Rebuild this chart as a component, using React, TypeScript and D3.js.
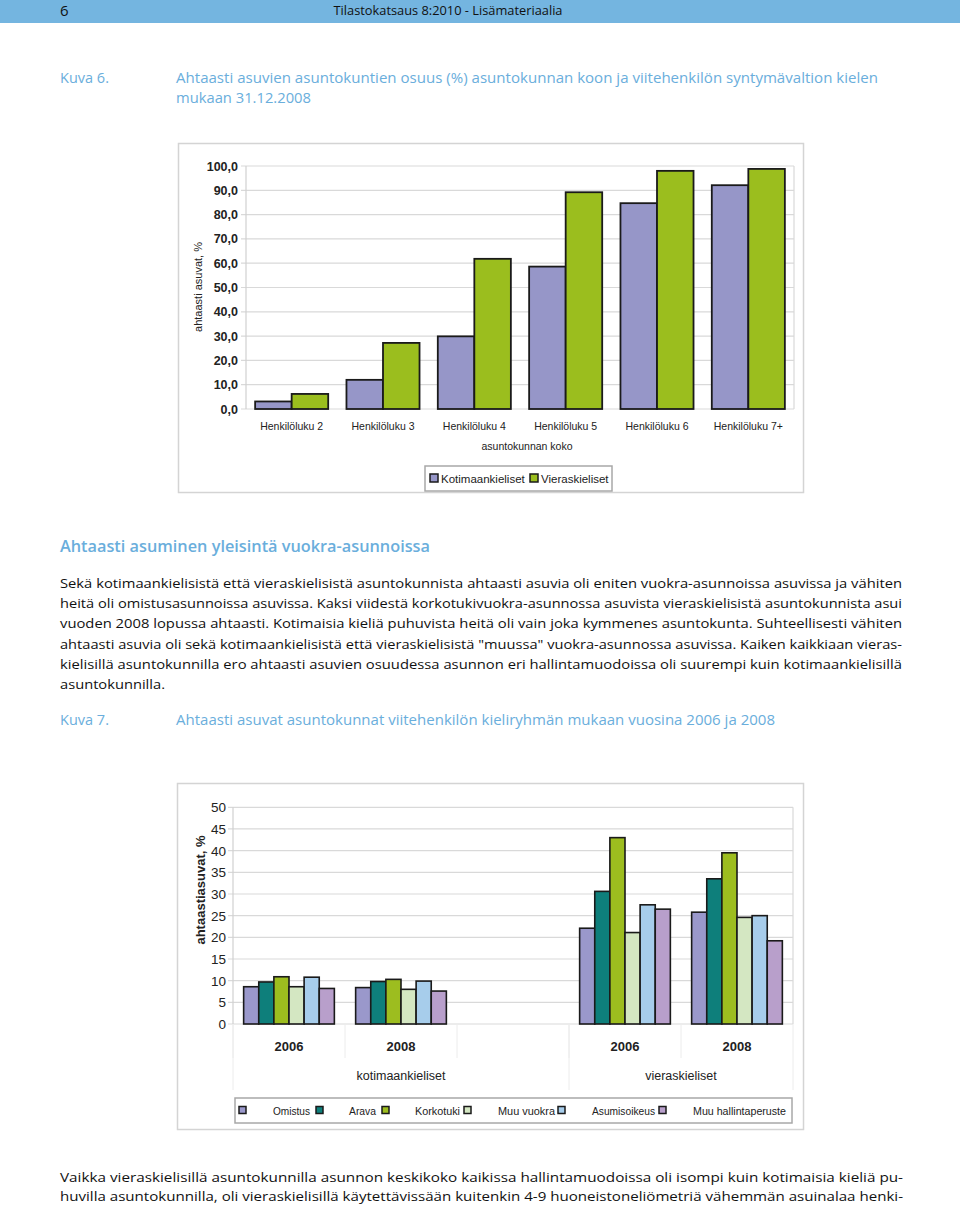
import React from "react";
import * as d3 from "d3";

// ---------- Data: chart 1 ----------
const sizeCategories = ["Henkilöluku 2", "Henkilöluku 3", "Henkilöluku 4", "Henkilöluku 5", "Henkilöluku 6", "Henkilöluku 7+"];
const languageSeries = ["Kotimaankieliset", "Vieraskieliset"];
const kotimaankielisetShare = [3.1, 12.0, 29.9, 58.6, 84.7, 92.1];
const vieraskielisetShare = [6.2, 27.2, 61.8, 89.2, 98.0, 98.8];
const chart1Ticks = [0, 10, 20, 30, 40, 50, 60, 70, 80, 90, 100];

// ---------- Data: chart 2 ----------
const tenureTypes = ["Omistus", "Arava", "Korkotuki", "Muu vuokra", "Asumisoikeus", "Muu hallintaperuste"];
const yearLabels = ["2006", "2008", "", "2006", "2008"];
const languageGroups = ["kotimaankieliset", "vieraskieliset"];
const koti2006 = [8.6, 9.7, 10.9, 8.6, 10.8, 8.2];
const koti2008 = [8.4, 9.8, 10.3, 8.0, 9.9, 7.6];
const vieras2006 = [22.1, 30.6, 43.0, 21.1, 27.5, 26.5];
const vieras2008 = [25.8, 33.5, 39.5, 24.6, 25.0, 19.2];
const chart2Ticks = [0, 5, 10, 15, 20, 25, 30, 35, 40, 45, 50];

// ---------- Text ----------
const paragraphLines = [
  "Sekä kotimaankielisistä että vieraskielisistä asuntokunnista ahtaasti asuvia oli eniten vuokra-asunnoissa asuvissa ja vähiten",
  "heitä oli omistusasunnoissa asuvissa. Kaksi viidestä korkotukivuokra-asunnossa asuvista vieraskielisistä asuntokunnista asui",
  "vuoden 2008 lopussa ahtaasti. Kotimaisia kieliä puhuvista heitä oli vain joka kymmenes asuntokunta. Suhteellisesti vähiten",
  "ahtaasti asuvia oli sekä kotimaankielisistä että vieraskielisistä \"muussa\" vuokra-asunnossa asuvissa. Kaiken kaikkiaan vieras-",
  "kielisillä asuntokunnilla ero ahtaasti asuvien osuudessa asunnon eri hallintamuodoissa oli suurempi kuin kotimaankielisillä",
  "asuntokunnilla.",
];
const bottomLines = [
  "Vaikka vieraskielisillä asuntokunnilla asunnon keskikoko kaikissa hallintamuodoissa oli isompi kuin kotimaisia kieliä pu-",
  "huvilla asuntokunnilla, oli vieraskielisillä käytettävissään kuitenkin 4-9 huoneistoneliömetriä vähemmän asuinalaa henki-",
];

const BLUE_TEXT = "#6AAEDC";
const BODY_FONT = "'Open Sans', 'Noto Sans', sans-serif";
const CHART_FONT = "'Liberation Sans', Arial, sans-serif";

const chart1Colors = ["#9696C8", "#9BBE1E"];
const chart2Colors = ["#9A98CB", "#0E7F7B", "#9DBD1F", "#D4E7C2", "#A7CDEB", "#B89FCB"];

// legend layout (chart 2)
const legend2SquareX = [239, 316, 382, 464, 558, 659];
const legend2LabelX = [273, 349, 415, 498, 592, 693];
const legend2LabelW = [37, 27, 45, 57, 63, 93];

function Chart1() {
  const x = d3.scaleBand<string>().domain(sizeCategories).range([246, 794]).paddingInner(0.2).paddingOuter(0.1);
  const xs = d3.scaleBand<string>().domain(languageSeries).range([0, x.bandwidth()]);
  const y = d3.scaleLinear().domain([0, 100]).range([409, 166]);
  const series = [kotimaankielisetShare, vieraskielisetShare];
  const fmt = (v: number) => d3.format(".1f")(v).replace(".", ",");
  return (
    <g fontFamily={CHART_FONT}>
      <rect x={178.5} y={143.5} width={625} height={349} fill="#fff" stroke="#D4D4D4" strokeWidth={1.5} />
      {chart1Ticks.map((t) => (
        <g key={t}>
          <line x1={241} x2={794} y1={y(t)} y2={y(t)} stroke="#D9D9D9" strokeWidth={1.2} />
          <text x={238} y={y(t) + 4.5} textAnchor="end" fontSize={12.5} fontWeight="bold" fill="#222">
            {fmt(t)}
          </text>
        </g>
      ))}
      <line x1={246} x2={246} y1={166} y2={409} stroke="#D0D0D0" strokeWidth={1.2} />
      <line x1={794} x2={794} y1={166} y2={409} stroke="#D9D9D9" strokeWidth={1.2} />
      {series.map((vals, si) =>
        vals.map((v, i) => (
          <rect
            key={si + "-" + i}
            x={(x(sizeCategories[i]) as number) + (xs(languageSeries[si]) as number)}
            y={y(v)}
            width={xs.bandwidth()}
            height={y(0) - y(v)}
            fill={chart1Colors[si]}
            stroke="#1a1a1a"
            strokeWidth={1.8}
          />
        ))
      )}
      {sizeCategories.map((c) => (
        <text key={c} x={(x(c) as number) + x.bandwidth() / 2} y={430} textAnchor="middle" fontSize={10.5} fill="#222">
          {c}
        </text>
      ))}
      <text x={527} y={450} textAnchor="middle" fontSize={10.5} fill="#222">
        asuntokunnan koko
      </text>
      <text transform="translate(202,287) rotate(-90)" textAnchor="middle" fontSize={11} fill="#222">
        ahtaasti asuvat, %
      </text>
      {/* legend */}
      <rect x={425} y={466} width={187} height={25} fill="#fff" stroke="#A8A8A8" strokeWidth={1.5} />
      {languageSeries.map((s, i) => {
        const lx = [430, 530][i];
        return (
          <g key={s}>
            <rect x={lx} y={474} width={8} height={8} fill={chart1Colors[i]} stroke="#1a1a1a" strokeWidth={1.5} />
            <text x={lx + 11} y={482.5} fontSize={11.5} fill="#222">
              {s}
            </text>
          </g>
        );
      })}
    </g>
  );
}

function Chart2() {
  const slotKeys = yearLabels.map((_, i) => "s" + i);
  const slotValues = [koti2006, koti2008, null, vieras2006, vieras2008];
  const x = d3.scaleBand<string>().domain(slotKeys).range([233, 793]).paddingInner(0.19).paddingOuter(0.095);
  const xs = d3.scaleBand<string>().domain(tenureTypes).range([0, x.bandwidth()]);
  const y = d3.scaleLinear().domain([0, 50]).range([1024, 807.3]);
  const step = x.step();
  const slotLeft = (i: number) => 233 + i * step;
  const groupSpans = [
    [0, 3],
    [3, 5],
  ];
  return (
    <g fontFamily={CHART_FONT}>
      <rect x={177.5} y={783.5} width={626} height={346} fill="#fff" stroke="#D4D4D4" strokeWidth={1.5} />
      {chart2Ticks.map((t) => (
        <g key={t}>
          <line x1={228} x2={793} y1={y(t)} y2={y(t)} stroke="#D9D9D9" strokeWidth={1.2} />
          <text x={226} y={y(t) + 5} textAnchor="end" fontSize={13.5} fill="#222">
            {t}
          </text>
        </g>
      ))}
      <line x1={233} x2={233} y1={807.3} y2={1024} stroke="#D0D0D0" strokeWidth={1.2} />
      <line x1={793} x2={793} y1={807.3} y2={1024} stroke="#D9D9D9" strokeWidth={1.2} />
      {/* category separators */}
      {yearLabels.map((_, i) => (
        <line key={"sep" + i} x1={slotLeft(i)} x2={slotLeft(i)} y1={1024} y2={1058} stroke="#ECECEC" strokeWidth={1} />
      ))}
      <line x1={793} x2={793} y1={1024} y2={1090} stroke="#ECECEC" strokeWidth={1} />
      {groupSpans.map(([a], gi) => (
        <line key={"gsep" + gi} x1={slotLeft(a)} x2={slotLeft(a)} y1={1024} y2={1090} stroke="#ECECEC" strokeWidth={1} />
      ))}
      {slotValues.map((vals, si) =>
        vals
          ? vals.map((v, ti) => (
              <rect
                key={si + "-" + ti}
                x={(x(slotKeys[si]) as number) + (xs(tenureTypes[ti]) as number)}
                y={y(v)}
                width={xs.bandwidth()}
                height={y(0) - y(v)}
                fill={chart2Colors[ti]}
                stroke="#1a1a1a"
                strokeWidth={1.6}
              />
            ))
          : null
      )}
      {yearLabels.map((lab, i) => (
        <text key={"yl" + i} x={slotLeft(i) + step / 2} y={1051} textAnchor="middle" fontSize={13} fontWeight="bold" fill="#222">
          {lab}
        </text>
      ))}
      {groupSpans.map(([a, b], gi) => (
        <text key={"gl" + gi} x={(slotLeft(a) + slotLeft(b)) / 2} y={1080} textAnchor="middle" fontSize={12.5} fill="#222">
          {languageGroups[gi]}
        </text>
      ))}
      <text transform="translate(205,890) rotate(-90)" textAnchor="middle" fontSize={13} fontWeight="bold" fill="#222">
        ahtaastiasuvat, %
      </text>
      {/* legend */}
      <rect x={235} y={1098} width={557} height={25} fill="#fff" stroke="#A8A8A8" strokeWidth={1.5} />
      {tenureTypes.map((t, i) => (
        <g key={t}>
          <rect x={legend2SquareX[i]} y={1106.5} width={7} height={7} fill={chart2Colors[i]} stroke="#1a1a1a" strokeWidth={1.5} />
          <text
            x={legend2LabelX[i]}
            y={1114.5}
            fontSize={11.5}
            fill="#222"
            textLength={legend2LabelW[i]}
            lengthAdjust="spacingAndGlyphs"
          >
            {t}
          </text>
        </g>
      ))}
    </g>
  );
}

export default function App() {
  const paraTop = 588;
  const paraStep = 20.2;
  return (
    <svg
      width={960}
      height={1205}
      viewBox="0 0 960 1205"
      style={{ position: "absolute", left: 0, top: 0, background: "#fff" }}
    >
      <rect x={0} y={0} width={960} height={1205} fill="#fff" />
      {/* header band */}
      <rect x={0} y={0} width={960} height={23} fill="#74B5E0" />
      <text x={60} y={16} fontFamily={BODY_FONT} fontSize={15} fill="#111">
        6
      </text>
      <text x={448} y={15} textAnchor="middle" fontFamily={BODY_FONT} fontSize={12.5} fill="#111" textLength={229} lengthAdjust="spacingAndGlyphs">
        Tilastokatsaus 8:2010 - Lisämateriaalia
      </text>

      {/* Kuva 6 title */}
      <g fontFamily={BODY_FONT} fill={BLUE_TEXT} fontSize={14.5}>
        <text x={60} y={83}>Kuva 6.</text>
        <text x={176} y={83} textLength={702} lengthAdjust="spacingAndGlyphs">
          Ahtaasti asuvien asuntokuntien osuus (%) asuntokunnan koon ja viitehenkilön syntymävaltion kielen
        </text>
        <text x={176} y={103} textLength={135} lengthAdjust="spacingAndGlyphs">
          mukaan 31.12.2008
        </text>
      </g>

      <Chart1 />

      {/* Heading */}
      <text x={60} y={552} fontFamily={BODY_FONT} fontSize={15.5} fontWeight={600} fill={BLUE_TEXT} textLength={370} lengthAdjust="spacingAndGlyphs">
        Ahtaasti asuminen yleisintä vuokra-asunnoissa
      </text>

      {/* Paragraph */}
      <g fontFamily={BODY_FONT} fontSize={13.5} fill="#111">
        {paragraphLines.map((l, i) =>
          i < paragraphLines.length - 1 ? (
            <text key={i} x={60} y={paraTop + i * paraStep} textLength={842} lengthAdjust="spacingAndGlyphs">
              {l}
            </text>
          ) : (
            <text key={i} x={60} y={paraTop + i * paraStep} textLength={105} lengthAdjust="spacingAndGlyphs">
              {l}
            </text>
          )
        )}
      </g>

      {/* Kuva 7 title */}
      <g fontFamily={BODY_FONT} fill={BLUE_TEXT} fontSize={14.5}>
        <text x={60} y={725}>Kuva 7.</text>
        <text x={176} y={725} textLength={599} lengthAdjust="spacingAndGlyphs">
          Ahtaasti asuvat asuntokunnat viitehenkilön kieliryhmän mukaan vuosina 2006 ja 2008
        </text>
      </g>

      <Chart2 />

      {/* Bottom text */}
      <g fontFamily={BODY_FONT} fontSize={13.5} fill="#111">
        {bottomLines.map((l, i) => (
          <text key={i} x={60} y={1182 + i * 18.5} textLength={843} lengthAdjust="spacingAndGlyphs">
            {l}
          </text>
        ))}
      </g>
    </svg>
  );
}
